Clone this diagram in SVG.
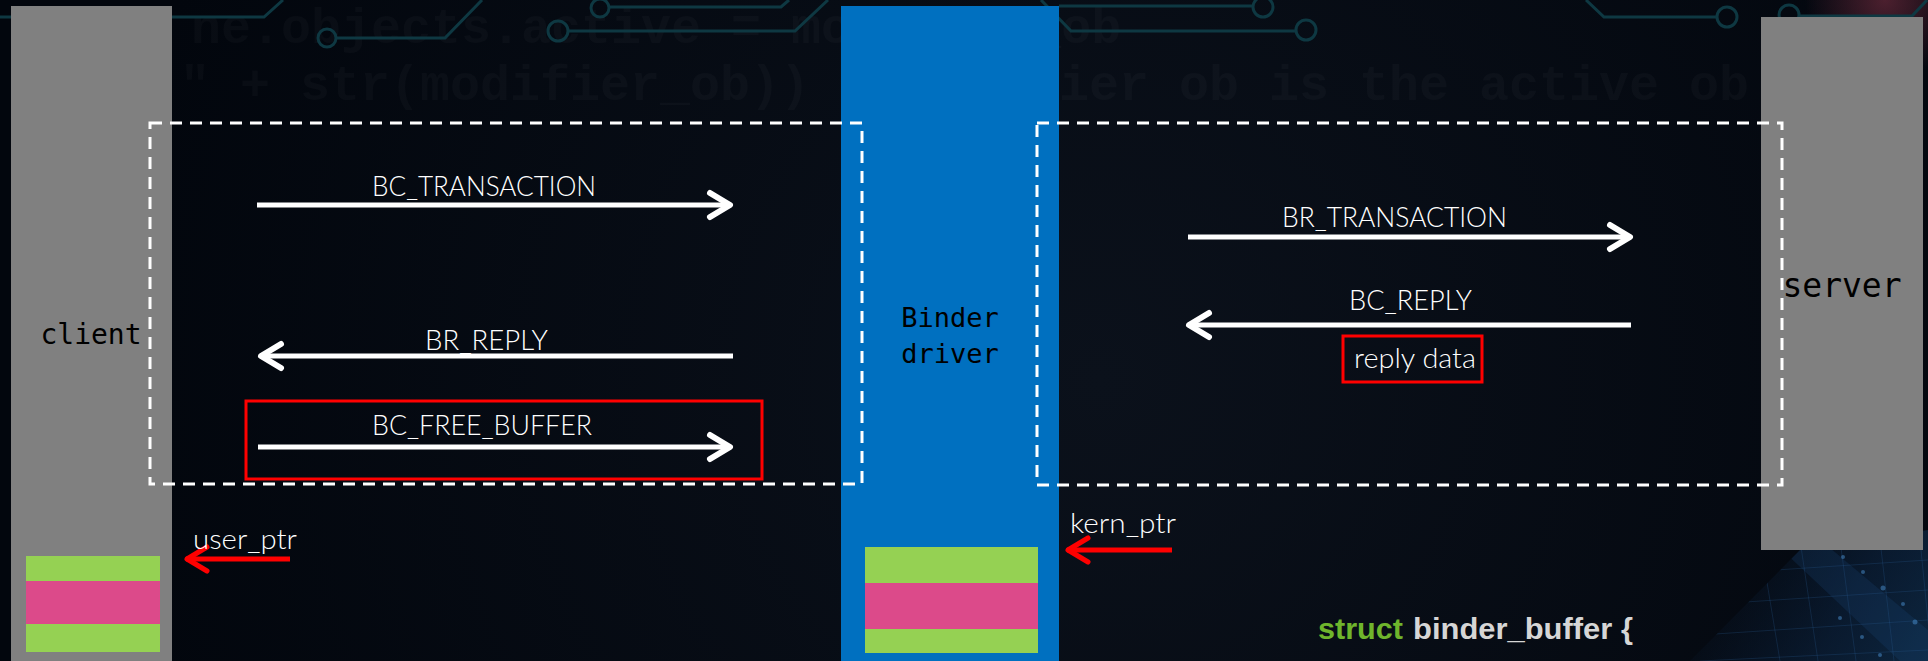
<svg xmlns="http://www.w3.org/2000/svg" width="1928" height="661" viewBox="0 0 1928 661">
  <defs>
    <style>
      .lbl { font-family: Lato, "Liberation Sans", sans-serif; font-weight: 300; font-size: 28px; fill: #ffffff; }
      .mono { font-family: "DejaVu Sans Mono", "Liberation Mono", monospace; fill: #000000; text-anchor: middle; }
      .code { font-family: "Liberation Mono", "DejaVu Sans Mono", monospace; font-weight: bold; font-size: 50px; fill: #ffffff; fill-opacity: 0.028; }
      .circuit { fill: none; stroke: #0e3842; stroke-width: 3; }
      .dash { fill: none; stroke: #ffffff; stroke-width: 3; stroke-dasharray: 12 8; }
      .redbox { fill: none; stroke: #ff0000; stroke-width: 3; }
      .msg { stroke: #ffffff; stroke-width: 5; marker-end: url(#chev); }
      .ptr { stroke: #ff0000; stroke-width: 5; marker-end: url(#chevRed); }
      .green { fill: #95d153; }
      .pink { fill: #dc4a8a; }
    </style>
    <marker id="chev" markerUnits="userSpaceOnUse" viewBox="-30 -18 36 36" refX="0" refY="0" markerWidth="36" markerHeight="36" orient="auto" overflow="visible">
      <path d="M-21,-12 L-1,0 L-21,12" fill="none" stroke="#ffffff" stroke-width="6" stroke-linecap="round" stroke-linejoin="round"/>
    </marker>
    <marker id="chevRed" markerUnits="userSpaceOnUse" viewBox="-30 -18 36 36" refX="0" refY="0" markerWidth="36" markerHeight="36" orient="auto" overflow="visible">
      <path d="M-21,-12 L-1,0 L-21,12" fill="none" stroke="#ff0000" stroke-width="5" stroke-linecap="round" stroke-linejoin="round"/>
    </marker>
    <radialGradient id="bgGlow" cx="1100" cy="380" r="1000" gradientUnits="userSpaceOnUse">
      <stop offset="0" stop-color="#0b111b"/>
      <stop offset="1" stop-color="#02060d"/>
    </radialGradient>
    <radialGradient id="redGlow" cx="1885" cy="0" r="80" gradientUnits="userSpaceOnUse">
      <stop offset="0" stop-color="#6b2a3c" stop-opacity="0.7"/>
      <stop offset="1" stop-color="#6b2a3c" stop-opacity="0"/>
    </radialGradient>
    <linearGradient id="gridShade" x1="1720" y1="540" x2="1928" y2="661" gradientUnits="userSpaceOnUse">
      <stop offset="0" stop-color="#0a1c33" stop-opacity="0"/>
      <stop offset="0.6" stop-color="#0d2542" stop-opacity="0.6"/>
      <stop offset="1" stop-color="#10304f" stop-opacity="0.75"/>
    </linearGradient>
    <clipPath id="gridClip">
      <polygon points="1690,661 1800,550 1928,530 1928,661"/>
    </clipPath>
  </defs>

  <!-- backdrop -->
  <rect width="1928" height="661" fill="url(#bgGlow)"/>
  <rect x="1780" y="0" width="148" height="90" fill="url(#redGlow)"/>

  <!-- faint code backdrop -->
  <g id="backdrop-code">
    <text class="code" x="191" y="43">ne.objects.active = modifier_ob</text>
    <text class="code" x="180" y="100">" + str(modifier_ob))</text>
    <text class="code" x="1059" y="100">ier ob is the active ob</text>
  </g>

  <!-- circuit traces -->
  <g id="backdrop-circuit">
    <path class="circuit" d="M0,17 H264 L283,0"/>
    <circle class="circuit" cx="327" cy="38" r="9"/>
    <path class="circuit" d="M337,38 H445 L482,0"/>
    <circle class="circuit" cx="558" cy="31" r="10"/>
    <path class="circuit" d="M568,31 H795 L828,0"/>
    <circle class="circuit" cx="600" cy="8" r="9"/>
    <path class="circuit" d="M610,7 H781 L789,0"/>
    <path class="circuit" d="M1041,0 L1071,31 H1296"/>
    <circle class="circuit" cx="1306" cy="30" r="10"/>
    <path class="circuit" d="M1059,6 H1253"/>
    <circle class="circuit" cx="1263" cy="7" r="10"/>
    <path class="circuit" d="M1586,0 L1604,17 H1717"/>
    <circle class="circuit" cx="1727" cy="17" r="10"/>
    <circle class="circuit" cx="1789" cy="15" r="10"/>
    <path class="circuit" d="M1799,16 H1912 L1927,0"/>
  </g>

  <!-- grid corner -->
  <g id="backdrop-grid" clip-path="url(#gridClip)">
    <rect x="1690" y="530" width="238" height="131" fill="url(#gridShade)"/>
    <polygon points="1780,548 1830,548 1928,630 1928,661 1900,661" fill="#1c4f86" fill-opacity="0.2"/>
    <g stroke="#2a5f96" stroke-opacity="0.25" stroke-width="1">
      <path d="M1760,540 L1780,661 M1800,540 L1818,661 M1840,540 L1856,661 M1880,540 L1894,661 M1920,540 L1932,661"/>
      <path d="M1700,575 L1928,560 M1700,605 L1928,590 M1700,635 L1928,620 M1700,661 L1928,650"/>
    </g>
    <g fill="#4a8fd0" fill-opacity="0.5">
      <circle cx="1843" cy="557" r="2"/>
      <circle cx="1863" cy="572" r="2"/>
      <circle cx="1883" cy="588" r="2.5"/>
      <circle cx="1903" cy="604" r="2"/>
      <circle cx="1915" cy="622" r="2.5"/>
      <circle cx="1840" cy="618" r="2"/>
      <circle cx="1862" cy="637" r="2"/>
      <circle cx="1880" cy="655" r="2"/>
    </g>
  </g>

  <!-- client process -->
  <g id="client">
    <rect x="11" y="6" width="161" height="655" fill="#808080"/>
    <text class="mono" x="91" y="344" font-size="28">client</text>
    <rect class="green" x="26" y="556" width="134" height="25"/>
    <rect class="pink" x="26" y="581" width="134" height="43"/>
    <rect class="green" x="26" y="624" width="134" height="28"/>
  </g>

  <!-- binder driver -->
  <g id="binder-driver">
    <rect x="841" y="6" width="218" height="655" fill="#0070c0"/>
    <text class="mono" x="950" y="327" font-size="27">Binder</text>
    <text class="mono" x="950" y="363" font-size="27">driver</text>
    <rect class="green" x="865" y="547" width="173" height="36"/>
    <rect class="pink" x="865" y="583" width="173" height="46"/>
    <rect class="green" x="865" y="629" width="173" height="24"/>
  </g>

  <!-- server process -->
  <g id="server">
    <rect x="1761" y="17" width="162" height="533" fill="#808080"/>
    <text class="mono" x="1842" y="297" font-size="33">server</text>
  </g>

  <!-- transaction scopes -->
  <g id="scope-client">
    <rect class="dash" x="150" y="123" width="712" height="361"/>
  </g>
  <g id="scope-server">
    <rect class="dash" x="1037" y="123" width="745" height="362"/>
  </g>

  <!-- highlighted items -->
  <g id="free-buffer-box">
    <rect class="redbox" x="246" y="401" width="516" height="78"/>
  </g>
  <g id="reply-data">
    <rect class="redbox" x="1343" y="336" width="139" height="46"/>
    <text class="lbl" x="1354" y="368" textLength="122" lengthAdjust="spacingAndGlyphs">reply data</text>
  </g>

  <!-- messages and pointers -->
  <g id="connectors">
    <line class="msg" x1="257" y1="205" x2="731" y2="205"/>
    <text class="lbl" x="372" y="196" textLength="224" lengthAdjust="spacingAndGlyphs">BC_TRANSACTION</text>

    <line class="msg" x1="733" y1="356" x2="260" y2="356"/>
    <text class="lbl" x="425" y="350" textLength="123" lengthAdjust="spacingAndGlyphs">BR_REPLY</text>

    <line class="msg" x1="258" y1="447" x2="731" y2="447"/>
    <text class="lbl" x="372" y="435" textLength="220" lengthAdjust="spacingAndGlyphs">BC_FREE_BUFFER</text>

    <line class="msg" x1="1188" y1="237" x2="1631" y2="237"/>
    <text class="lbl" x="1282" y="227" textLength="225" lengthAdjust="spacingAndGlyphs">BR_TRANSACTION</text>

    <line class="msg" x1="1631" y1="325" x2="1188" y2="325"/>
    <text class="lbl" x="1349" y="310" textLength="123" lengthAdjust="spacingAndGlyphs">BC_REPLY</text>

    <line class="ptr" x1="290" y1="559" x2="186" y2="559"/>
    <text class="lbl" x="193" y="549" textLength="104" lengthAdjust="spacingAndGlyphs">user_ptr</text>

    <line class="ptr" x1="1172" y1="550" x2="1067" y2="550"/>
    <text class="lbl" x="1070" y="533" textLength="106" lengthAdjust="spacingAndGlyphs">kern_ptr</text>
  </g>

  <!-- struct caption -->
  <g id="caption">
    <text x="1318" y="639" font-family="'Liberation Sans', Arial, sans-serif" font-weight="bold" font-size="29" fill="#6fb52c" textLength="85" lengthAdjust="spacingAndGlyphs">struct</text>
    <text x="1413" y="639" font-family="'Liberation Sans', Arial, sans-serif" font-weight="bold" font-size="29" fill="#d6d6d6" textLength="220" lengthAdjust="spacingAndGlyphs">binder_buffer {</text>
  </g>
</svg>
